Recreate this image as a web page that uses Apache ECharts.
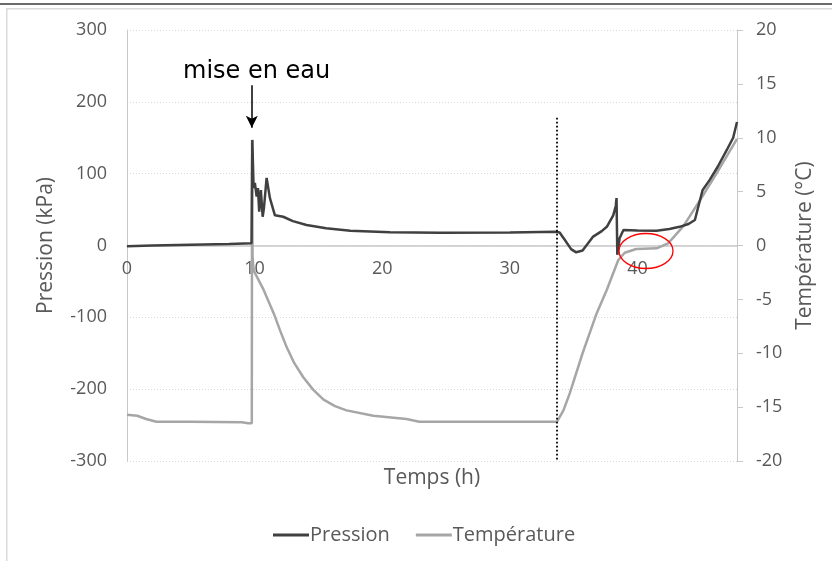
<!DOCTYPE html>
<html>
<head>
<meta charset="utf-8">
<script src="https://cdn.jsdelivr.net/npm/echarts@6/dist/echarts.min.js"></script>
<style>html,body{margin:0;padding:0;background:#fff}#c{width:832px;height:561px}</style>
</head>
<body>
<div id="c"></div>
<script>
// ---- data ----
var seriesNames = ['Pression', 'Température'];
var xTicks = [0, 10, 20, 30, 40];
var pTime = [0, 2, 5, 8, 9.76, 9.82, 9.92, 10.02, 10.16, 10.26, 10.36, 10.49, 10.63, 10.73, 10.94, 11.2, 11.59, 12.24, 13.0, 14.07, 15.6, 17.5, 20.6, 24.5, 30, 33.6, 33.9, 34.3, 34.8, 35.2, 35.7, 36.5, 37.2, 37.6, 38.1, 38.3, 38.36, 38.42, 38.6, 38.9, 40, 41.5, 42.5, 43.3, 44.0, 44.5, 45.1, 45.65, 46.3, 47.0, 47.5, 47.8];
var pValue = [-1, 0, 1, 2, 3, 147, 80, 87, 68, 80, 47, 77, 40, 52, 94, 66, 42, 40, 34, 28.5, 24, 20.6, 18.3, 17.8, 18, 19, 18, 8, -5, -9.5, -7, 12, 20, 26, 42, 55, 66, -13, 10, 21.6, 21, 20.6, 23, 26, 30, 35.5, 77, 91, 110, 133, 150, 172];
var tTime = [0, 0.8, 1.5, 2.3, 5, 9.0, 9.5, 9.78, 9.8, 9.84, 9.9, 10.0, 10.7, 11.5, 12.0, 12.5, 13.1, 13.8, 14.6, 15.4, 16.3, 17.2, 19.3, 21.9, 22.9, 33.7, 34.2, 34.7, 35.7, 36.8, 37.6, 38.5, 39.0, 39.9, 41.5, 42.4, 43.6, 44.9, 46.2, 47.8];
var tValue = [-15.7, -15.8, -16.1, -16.35, -16.35, -16.4, -16.5, -16.5, 9.8, -1.0, -2.0, -2.5, -4.1, -6.3, -7.9, -9.4, -10.9, -12.2, -13.4, -14.3, -14.9, -15.3, -15.8, -16.1, -16.35, -16.35, -15.3, -13.7, -10, -6.3, -4.1, -1.35, -0.67, -0.33, -0.26, 0.2, 1.8, 4.2, 6.7, 9.9];
var annotTime = 9.78, annotTop = 223, annotTip = 164;
var dotTime = 33.67, dotTop = 178, dotBottom = -300;

function pairs(xs, ys) { return xs.map(function (x, i) { return [x, ys[i]]; }); }

var FONT = 'Open Sans';
var chart = echarts.init(document.getElementById('c'), null, { renderer: 'canvas' });
chart.setOption({
  animation: false,
  backgroundColor: '#ffffff',
  grid: { left: 127, right: 95, top: 30, bottom: 100, containLabel: false, outerBoundsMode: 'none' },
  xAxis: {
    type: 'value', min: 0, max: 47.8, interval: 10, position: 'bottom', offset: -215.5,
    name: 'Temps (h)', nameLocation: 'middle', nameGap: 222,
    nameTextStyle: { fontFamily: FONT, fontSize: 21, color: '#595959' },
    axisLine: { show: true, onZero: false, lineStyle: { color: '#c8c8c8', width: 1.5 } },
    axisTick: { show: false },
    splitLine: { show: false },
    axisLabel: {
      margin: 14, fontFamily: FONT, fontSize: 18, color: '#595959', showMaxLabel: false,
      formatter: function (v) { return xTicks.indexOf(v) >= 0 ? String(v) : ''; }
    }
  },
  yAxis: [{
    type: 'value', min: -300, max: 300, interval: 100, position: 'left',
    name: 'Pression (kPa)', nameLocation: 'middle', nameGap: 70,
    nameTextStyle: { fontFamily: FONT, fontSize: 21, color: '#595959' },
    axisLine: { show: true, onZero: false, lineStyle: { color: '#c8c8c8', width: 1 } },
    axisTick: { show: false },
    splitLine: { show: true, lineStyle: { color: '#d9d9d9', type: [1, 2], width: 1 } },
    axisLabel: { margin: 20, fontFamily: FONT, fontSize: 18, color: '#595959' }
  }, {
    type: 'value', min: -20, max: 20, interval: 5, position: 'right',
    name: 'Température (°C)', nameLocation: 'middle', nameGap: 58,
    nameTextStyle: { fontFamily: FONT, fontSize: 21, color: '#595959' },
    axisLine: { show: true, onZero: false, lineStyle: { color: '#c8c8c8', width: 1 } },
    axisTick: { show: true, inside: false, length: 6, lineStyle: { color: '#c8c8c8' } },
    splitLine: { show: false },
    axisLabel: { margin: 19, fontFamily: FONT, fontSize: 18, color: '#595959' }
  }],
  legend: {
    left: 268, top: 520, itemGap: 26, itemWidth: 36, itemHeight: 3, icon: 'rect',
    textStyle: { fontFamily: FONT, fontSize: 20, color: '#595959', padding: [0, 0, 0, -4] },
    data: seriesNames
  },
  series: [{
    name: seriesNames[0], type: 'line', yAxisIndex: 0, showSymbol: false, symbol: 'none',
    data: pairs(pTime, pValue),
    lineStyle: { color: '#404040', width: 2.5 }, itemStyle: { color: '#404040' },
    z: 3,
    markLine: {
      silent: true, animation: false, label: { show: false },
      data: [
        [{ coord: [annotTime, annotTop], symbol: 'none', lineStyle: { color: '#000', width: 1.5, type: 'solid' } },
         { coord: [annotTime, annotTip], symbol: 'arrow', symbolSize: [9, 12] }],
        [{ coord: [dotTime, dotTop], symbol: 'none', lineStyle: { color: '#000', width: 1.8, type: [1.8, 2.2] } },
         { coord: [dotTime, dotBottom], symbol: 'none' }]
      ]
    }
  }, {
    name: seriesNames[1], type: 'line', yAxisIndex: 1, showSymbol: false, symbol: 'none',
    data: pairs(tTime, tValue),
    lineStyle: { color: '#a6a6a6', width: 2.5 }, itemStyle: { color: '#a6a6a6' },
    z: 2
  }],
  graphic: [
    { type: 'rect', shape: { x: 0, y: 3, width: 832, height: 2 }, style: { fill: '#6b6b6b' }, silent: true },
    { type: 'rect', shape: { x: 6, y: 8, width: 826, height: 1.5 }, style: { fill: '#dadada' }, silent: true },
    { type: 'rect', shape: { x: 6, y: 8, width: 1.5, height: 553 }, style: { fill: '#dadada' }, silent: true },
    { type: 'text', left: 183, top: 60, style: { text: 'mise en eau', fontFamily: 'DejaVu Sans', fontSize: 24, fill: '#000' }, silent: true, z: 10 },
    { type: 'ellipse', shape: { cx: 646, cy: 251, rx: 27, ry: 17.5 }, style: { fill: 'none', stroke: '#ff0000', lineWidth: 1.3 }, silent: true, z: 10 }
  ]
});
</script>
</body>
</html>
